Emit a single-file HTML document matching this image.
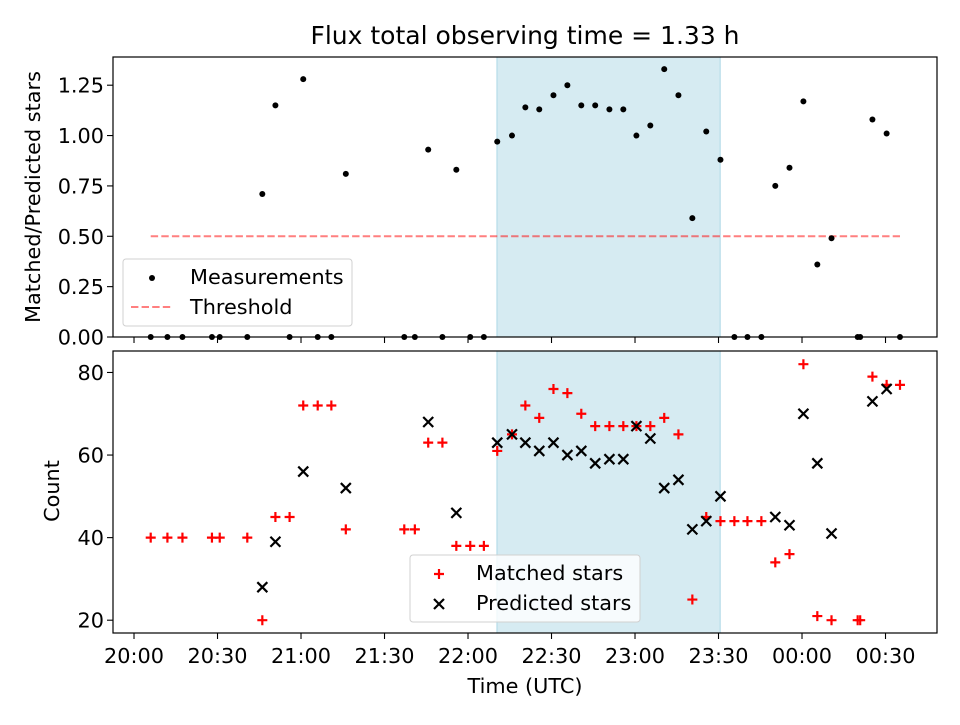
<!DOCTYPE html>
<html><head><meta charset="utf-8"><style>
html,body{margin:0;padding:0;background:#fff;}
svg text{font-family:"DejaVu Sans","Liberation Sans",sans-serif;fill:#000;}
</style></head><body>
<svg id="fig" width="960" height="720" xmlns="http://www.w3.org/2000/svg">
<text x="525" y="44" font-size="25" text-anchor="middle">Flux total observing time = 1.33 h</text>
<g id="topPanel"></g>
<g id="botPanel"></g>
<text transform="translate(40,197) rotate(-90)" font-size="20.8" text-anchor="middle">Matched/Predicted stars</text>
<text transform="translate(59,491) rotate(-90)" font-size="20.8" text-anchor="middle">Count</text>
<text x="525" y="693" font-size="20.8" text-anchor="middle">Time (UTC)</text>
</svg>
<script>
// minutes since 20:00 UTC
const times = [6,12,17.4,28,30.8,40.7,46.1,50.8,55.9,60.8,66,70.9,76.1,97.1,100.9,105.7,110.8,115.8,120.8,125.7,130.5,135.8,140.6,145.6,150.7,155.7,160.7,165.7,170.8,175.8,180.5,185.5,190.5,195.6,200.6,205.6,210.7,215.7,220.4,225.4,230.4,235.5,240.5,245.5,250.6,260,260.9,265.3,270.4,275.2];
const matched = [40,40,40,40,40,40,20,45,45,72,72,72,42,42,42,63,63,38,38,38,61,65,72,69,76,75,70,67,67,67,67,67,69,65,25,45,44,44,44,44,34,36,82,21,20,20,20,79,77,77];
const predicted = [null,null,null,null,null,null,28,39,null,56,null,null,52,null,null,68,null,46,null,null,63,65,63,61,63,60,61,58,59,59,67,64,52,54,42,44,50,null,null,null,45,43,70,58,41,null,null,73,76,null];
const ratio = [0,0,0,0,0,0,0.71,1.15,0,1.28,0,0,0.81,0,0,0.93,0,0.83,0,0,0.97,1.0,1.14,1.13,1.2,1.25,1.15,1.15,1.13,1.13,1.0,1.05,1.33,1.2,0.59,1.02,0.88,0,0,0,0.75,0.84,1.17,0.36,0.49,0,0,1.08,1.01,0];
const threshold = 0.5;
const shadeRange = [130.4, 210.6];
const xTickMinutes = [0,30,60,90,120,150,180,210,240,270];
const xTickLabels = ["20:00","20:30","21:00","21:30","22:00","22:30","23:00","23:30","00:00","00:30"];
const topYTicks = [0,0.25,0.5,0.75,1.0,1.25];
const topYLabels = ["0.00","0.25","0.50","0.75","1.00","1.25"];
const botYTicks = [20,40,60,80];

const NS="http://www.w3.org/2000/svg";
const FS=20.8;
const L=113,R=937;
const xMin=-7.55,xMax=288.5;
const X=t=>L+(t-xMin)/(xMax-xMin)*(R-L);
const TT=57,TB=337,tyMin=0,tyMax=1.39;
const YT=v=>TB-(v-tyMin)/(tyMax-tyMin)*(TB-TT);
const BT=351,BB=633,byMin=16.9,byMax=85.2;
const YB=v=>BB-(v-byMin)/(byMax-byMin)*(BB-BT);
function el(tag,attrs,parent,txt){const e=document.createElementNS(NS,tag);for(const k in attrs)e.setAttribute(k,attrs[k]);if(txt!==undefined)e.textContent=txt;parent.appendChild(e);return e;}
const topG=document.getElementById('topPanel'),botG=document.getElementById('botPanel');

function panel(g,T,B,name){
  const s=el('rect',{x:X(shadeRange[0]),y:T,width:X(shadeRange[1])-X(shadeRange[0]),height:B-T,fill:'#add8e6','fill-opacity':0.5,stroke:'#add8e6','stroke-width':1},g);
  
  
}
panel(topG,TT,TB,'top');panel(botG,BT,BB,'bottom');

const th=el('line',{x1:X(times[0]),x2:X(times[times.length-1]),y1:YT(threshold),y2:YT(threshold),stroke:'#ff0000','stroke-opacity':0.5,'stroke-width':2,'stroke-dasharray':'7.4,3.2'},topG);


times.forEach((t,i)=>{
  const c=el('circle',{cx:X(t),cy:YT(ratio[i]),r:3,fill:'#000'},topG);
  
  
});
function plus(g,x,y){return el('path',{d:`M${x-5},${y}H${x+5}M${x},${y-5}V${y+5}`,stroke:'#ff0000','stroke-width':2.2,fill:'none'},g);}
function cross(g,x,y){return el('path',{d:`M${x-5},${y-5}L${x+5},${y+5}M${x-5},${y+5}L${x+5},${y-5}`,stroke:'#000','stroke-width':2.2,fill:'none'},g);}
times.forEach((t,i)=>{
  if(matched[i]!=null){const p=plus(botG,X(t),YB(matched[i]));
    
    }
  if(predicted[i]!=null){const p=cross(botG,X(t),YB(predicted[i]));
    
    }
});

function frame(g,T,B,name){
  const f=el('rect',{x:L,y:T,width:R-L,height:B-T,fill:'none',stroke:'#000','stroke-width':1.2},g);
  
  
  xTickMinutes.forEach(m=>{
    const tk=el('line',{x1:X(m),x2:X(m),y1:B,y2:B+6,stroke:'#000','stroke-width':1.1},g);
    
    
  });
}
frame(topG,TT,TB,'top');frame(botG,BT,BB,'bottom');
xTickMinutes.forEach((m,i)=>{
  const t=el('text',{x:X(m),y:BB+30,'font-size':FS,'text-anchor':'middle'},botG,xTickLabels[i]);
  
  
});
topYTicks.forEach((v,i)=>{
  const tk=el('line',{x1:L-6,x2:L,y1:YT(v),y2:YT(v),stroke:'#000','stroke-width':1.1},topG);
  
  
  const t=el('text',{x:L-9,y:YT(v)+7.5,'font-size':FS,'text-anchor':'end'},topG,topYLabels[i]);
  
  
});
botYTicks.forEach(v=>{
  const tk=el('line',{x1:L-6,x2:L,y1:YB(v),y2:YB(v),stroke:'#000','stroke-width':1.1},botG);
  
  
  const t=el('text',{x:L-9,y:YB(v)+7.5,'font-size':FS,'text-anchor':'end'},botG,String(v));
  
  
});

const lg1=el('g',{},topG);


el('rect',{x:123,y:259,width:229,height:67,rx:3,fill:'#fff','fill-opacity':0.8,stroke:'#d0d0d0'},lg1);
el('circle',{cx:152,cy:278,r:3,fill:'#000'},lg1);
el('text',{x:190,y:284,'font-size':FS},lg1,'Measurements');
el('line',{x1:131,x2:173,y1:307,y2:307,stroke:'#ff0000','stroke-opacity':0.5,'stroke-width':2,'stroke-dasharray':'7.4,3.2'},lg1);
el('text',{x:190,y:314,'font-size':FS},lg1,'Threshold');

const lg2=el('g',{},botG);


el('rect',{x:410,y:555,width:230,height:67,rx:3,fill:'#fff','fill-opacity':0.8,stroke:'#d0d0d0'},lg2);
plus(lg2,439,574);
cross(lg2,439,604);
el('text',{x:476,y:580,'font-size':FS},lg2,'Matched stars');
el('text',{x:476,y:610,'font-size':FS},lg2,'Predicted stars');
</script>
</body></html>
